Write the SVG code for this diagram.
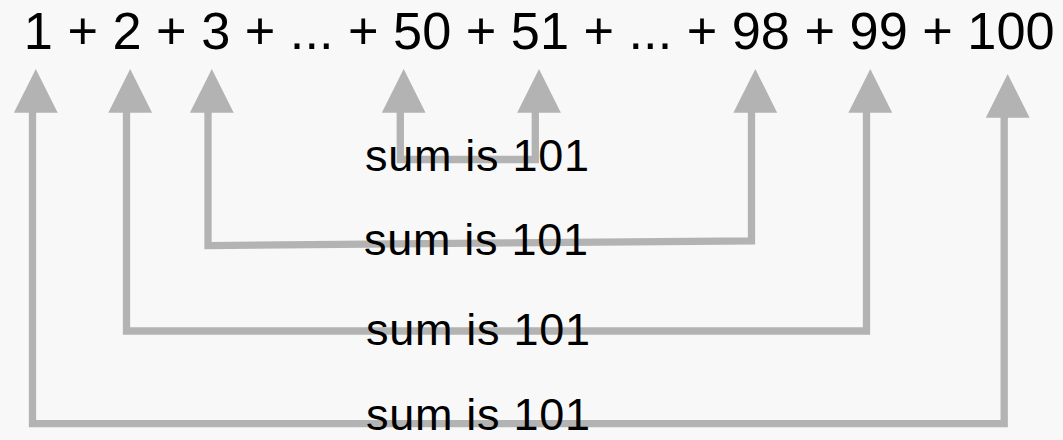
<svg xmlns="http://www.w3.org/2000/svg" xmlns:xlink="http://www.w3.org/1999/xlink" width="1063" height="440" viewBox="0 0 1063 440">
  <style>
    .bg { fill: #f8f8f8; }
    .wire { fill: none; stroke: #b3b3b3; stroke-width: 7.3; stroke-linejoin: miter; stroke-linecap: butt; }
    .head { fill: #b3b3b3; stroke: none; }
    .expr { font-family: "Liberation Sans", Arial, sans-serif; font-size: 52.3px; fill: #000000; }
    .lbl { font-family: "Liberation Sans", Arial, sans-serif; font-size: 45px; fill: #000000; }
  </style>
  <defs>
    <polygon id="tri" points="0,0 -21.9,43.7 21.9,43.7"/>
  </defs>
  <rect class="bg" x="0" y="0" width="1063" height="440"/>

  <g id="connectors">
    <!-- 1 <-> 100 -->
    <polyline class="wire" points="32.5,112 32.5,423.7 1004.2,423.7 1004.2,117"/>
    <use class="head" xlink:href="#tri" href="#tri" x="35.8" y="69"/>
    <use class="head" xlink:href="#tri" href="#tri" x="1007.7" y="74"/>
    <!-- 2 <-> 99 -->
    <polyline class="wire" points="126.5,112 126.5,331 866.5,331 866.5,112"/>
    <use class="head" xlink:href="#tri" href="#tri" x="130.2" y="69"/>
    <use class="head" xlink:href="#tri" href="#tri" x="870.3" y="69"/>
    <!-- 3 <-> 98 -->
    <polyline class="wire" points="208,112 208,245.6 751.5,240.8 751.5,112"/>
    <use class="head" xlink:href="#tri" href="#tri" x="211.8" y="69"/>
    <use class="head" xlink:href="#tri" href="#tri" x="755.3" y="69"/>
    <!-- 50 <-> 51 -->
    <polyline class="wire" points="400.3,112 400.3,159.5 535.3,159.5 535.3,112"/>
    <use class="head" xlink:href="#tri" href="#tri" x="403.7" y="69"/>
    <use class="head" xlink:href="#tri" href="#tri" x="539" y="69"/>
  </g>

  <g id="expression">
    <text class="expr" x="23.8" y="49">1 + 2 + 3 + ... + 50 + 51 + ... + 98 + 99 + 100</text>
  </g>

  <g id="label-50-51">
    <text class="lbl" x="365" y="171" textLength="224" lengthAdjust="spacing">sum is 101</text>
  </g>
  <g id="label-3-98">
    <text class="lbl" x="364" y="255" textLength="224" lengthAdjust="spacing">sum is 101</text>
  </g>
  <g id="label-2-99">
    <text class="lbl" x="366" y="345" textLength="224" lengthAdjust="spacing">sum is 101</text>
  </g>
  <g id="label-1-100">
    <text class="lbl" x="366" y="430" textLength="224" lengthAdjust="spacing">sum is 101</text>
  </g>
</svg>
